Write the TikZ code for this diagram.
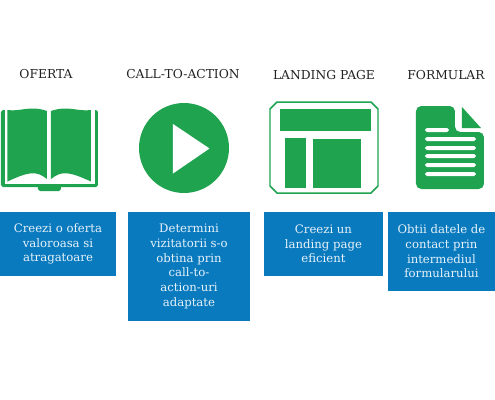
\documentclass[tikz,border=0pt]{standalone}
\usepackage{fontspec}
\setmainfont{DejaVu Serif}
\usepackage{tikz}
\usetikzlibrary{positioning}
\definecolor{iconGreen}{HTML}{1FA34F}
\definecolor{boxBlue}{HTML}{0A7ABF}
\definecolor{titleGray}{HTML}{222222}
\tikzset{
  titletext/.style={text=titleGray, inner sep=0pt, font=\fontsize{7}{8}\selectfont},
  bluebox/.style={fill=boxBlue, text=white!90!boxBlue, inner sep=0pt, align=center, font=\fontsize{6.65}{8.35}\selectfont},
  iconfill/.style={fill=iconGreen, draw=none},
  cutout/.style={fill=white, draw=none},
}
\begin{document}
\begin{tikzpicture}[x=0.02cm, y=-0.02cm]
    \useasboundingbox (0,0) rectangle (495,400);

    % titles
    \node[titletext] (titleOferta) at (46, 74) {OFERTA};
    \node[titletext] (titleCall) at (183, 74.5) {CALL-TO-ACTION};
    \node[titletext] (titleLanding) at (324, 75.5) {LANDING PAGE};
    \node[titletext] (titleFormular) at (446, 75.5) {FORMULAR};

    % book
    \fill[iconfill, rounded corners=1pt] (1,110) rectangle (98,187);
    \fill[iconfill, rounded corners=1pt] (38,185) rectangle (61,191);
    \fill[cutout] (5,109) rectangle (95,183.5);
    \fill[iconfill] (7.5,110) .. controls (20,112) and (30,105) .. (47,111) -- (47,179)
        .. controls (36,170) and (28,172) .. (7.5,181.5) -- cycle;
    \fill[iconfill] (91,110) .. controls (78,112) and (68,105) .. (51,111) -- (51,179)
        .. controls (62,170) and (70,172) .. (91,181.5) -- cycle;

    % play button
    \fill[iconfill] (184,148) circle (45);
    \fill[cutout] (173,124) -- (209.5,148.5) -- (173,173.5) -- cycle;

    % landing page
    \draw[iconGreen, line width=0.85pt] (277,102) -- (371,102) -- (378,109) -- (378,186)
        -- (371,193) -- (277,193) -- (270,186) -- (270,109) -- cycle;
    \fill[iconfill] (280,109) rectangle (371,131);
    \fill[iconfill] (285,138) rectangle (306,188);
    \fill[iconfill] (313,139) rectangle (361,188);

    % form
    \fill[iconfill, rounded corners=3pt] (416,189) -- (416,106) -- (455,106) -- (455,132)
        -- (484,132) -- (484,189) -- cycle;
    \fill[iconfill] (462,107) -- (481,128) -- (462,128) -- cycle;
    \fill[cutout, rounded corners=1pt] (425,128) rectangle (449,132);
    \foreach \y in {139,148,156,165,174}
        \fill[cutout, rounded corners=1pt] (425,\y-2) rectangle (476,\y+2);

    % blue boxes
    \node[bluebox, minimum width=2.32cm, minimum height=1.28cm] (boxOferta) at (58, 244)
        {Creezi o oferta\\valoroasa si\\atragatoare};
    \node[bluebox, minimum width=2.44cm, minimum height=2.18cm] (boxCall) at (189, 266.5)
        {Determini\\vizitatorii s-o\\obtina prin\\call-to-\\action-uri\\adaptate};
    \node[bluebox, minimum width=2.38cm, minimum height=1.28cm] (boxLanding) at (323.5, 244)
        {Creezi un\\landing page\\eficient};
    \node[bluebox, minimum width=2.14cm, minimum height=1.58cm] (boxFormular) at (441.5, 251.5)
        {Obtii datele de\\contact prin\\intermediul\\formularului};
\end{tikzpicture}
\end{document}
